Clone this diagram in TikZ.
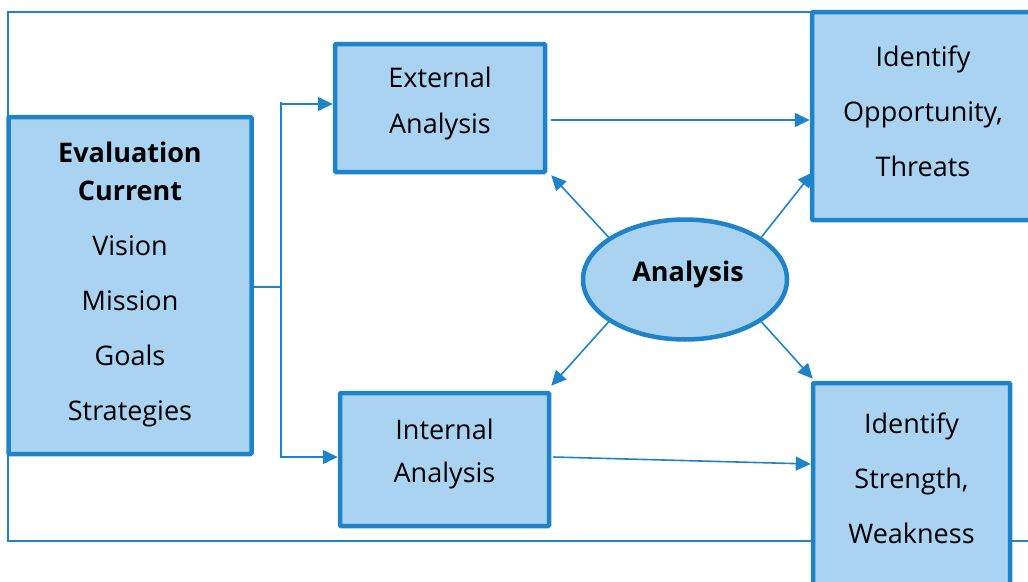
\documentclass[tikz,border=0pt]{standalone}
\usepackage{fontspec}
\setmainfont{Open Sans}
\usetikzlibrary{arrows.meta,shapes.geometric,calc}
\definecolor{bord}{HTML}{1F83C9}
\definecolor{fillb}{HTML}{A9D3F1}
\tikzset{
  boxn/.style={draw=bord,fill=fillb,line width=4.5pt,rectangle,rounded corners=1pt,inner sep=0pt},
  txt/.style={align=center,inner sep=0pt,font=\fontsize{27}{55}\selectfont},
  thinl/.style={draw=bord,line width=1.6pt},
  arr/.style={thinl,-{Triangle[length=15pt,width=14pt]}}
}
\begin{document}
\begin{tikzpicture}[x=1pt,y=-1pt]
\useasboundingbox (0,0) rectangle (1028,581);
\clip (0,0) rectangle (1028,581);
% outer frame
\draw[thinl] (1100,12) -- (8,12) -- (8,541) -- (1100,541);
% boxes
\node[boxn,minimum width=243pt,minimum height=337pt] (lft) at (130,285.5) {};
\node[txt] (lftT) at ($(lft.center)+(0,-1)$)
  {\textbf{Evaluation}\\[-17pt]\textbf{Current}\\Vision\\Mission\\Goals\\Strategies};
\node[boxn,minimum width=210pt,minimum height=128pt] (ext) at (440,108) {};
\node[txt,font=\fontsize{27}{46}\selectfont] (extT) at ($(ext.center)+(0,-5)$) {External\\Analysis};
\node[boxn,minimum width=209pt,minimum height=133pt] (int) at (444.5,459.5) {};
\node[txt,font=\fontsize{27}{43}\selectfont] (intT) at ($(int.center)+(0,-6)$) {Internal\\Analysis};
\node[boxn,minimum width=222pt,minimum height=208pt] (opp) at (923,116) {};
\node[txt] (oppT) at ($(opp.center)+(0,-5)$) {Identify\\Opportunity,\\Threats};
\node[boxn,minimum width=197pt,minimum height=207pt] (str) at (911.5,486.5) {};
\node[txt] (strT) at ($(str.center)+(0,-8)$) {Identify\\Strength,\\Weakness};
\node[draw=bord,fill=fillb,line width=4.5pt,ellipse,minimum width=204pt,minimum height=120pt,inner sep=0pt] (ana) at (685,279.5) {};
\node[txt,font=\fontsize{27}{30}\selectfont\bfseries] (anaT) at ($(ana.center)+(3,-5)$) {Analysis};
% bracket
\coordinate (bj) at (281,287);
\coordinate (bt) at (281,104);
\coordinate (bb) at (281,457);
\draw[thinl] (lft.east |- bj) -- (bj);
\draw[thinl] ($(bt)+(0,-2)$) -- ($(bb)+(0,1)$);
\draw[arr] (bt) -- (ext.west |- bt);
\draw[arr] (bb) -- (int.west |- bb);
% analysis arrows
\draw[arr] (ana.151) -- ($(ext.south east)+(4,1)$);
\draw[arr] (ana.29) -- ($(opp.south west)+(3,-50)$);
\draw[arr] (ana.209) -- ($(int.north east)+(0,-5)$);
\draw[arr] (ana.331) -- ($(str.north west)+(2,-2)$);
% horizontal arrows
\coordinate (e1) at ($(ext.east)+(4,12)$);
\draw[arr] (e1) -- (opp.west |- e1);
\draw[arr] ($(int.east)+(2,-2.5)$) -- ($(str.west)+(0,-22.5)$);
\end{tikzpicture}
\end{document}
